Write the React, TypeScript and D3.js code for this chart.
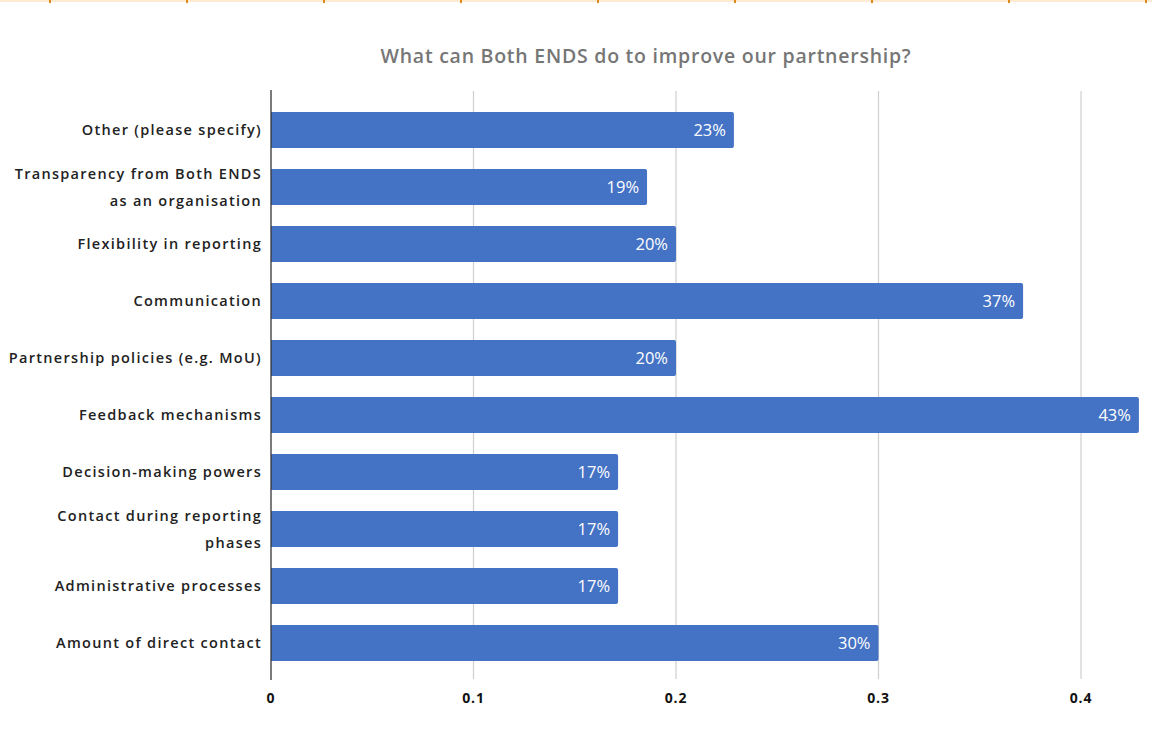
import React from "react";
import * as d3 from "d3";

const categories: string[][] = [
  ["Other (please specify)"],
  ["Transparency from Both ENDS", "as an organisation"],
  ["Flexibility in reporting"],
  ["Communication"],
  ["Partnership policies (e.g. MoU)"],
  ["Feedback mechanisms"],
  ["Decision-making powers"],
  ["Contact during reporting", "phases"],
  ["Administrative processes"],
  ["Amount of direct contact"],
];
const values: number[] = [0.2286, 0.1857, 0.2, 0.3714, 0.2, 0.4286, 0.1714, 0.1714, 0.1714, 0.3];
const valueLabels: string[] = ["23%", "19%", "20%", "37%", "20%", "43%", "17%", "17%", "17%", "30%"];
const xTicks: number[] = [0, 0.1, 0.2, 0.3, 0.4];
const xTickLabels: string[] = ["0", "0.1", "0.2", "0.3", "0.4"];
const topTicks: number[] = [50, 187, 324, 461, 598, 735, 872, 1009, 1146];
const title = "What can Both ENDS do to improve our partnership?";

const W = 1152;
const H = 738;
const x0 = 271;
const font = "'Open Sans', Lato, sans-serif";

export default function App() {
  const x = d3.scaleLinear().domain([0, 0.4]).range([x0, x0 + 810]);
  const y = d3
    .scaleBand<number>()
    .domain(d3.range(categories.length))
    .range([101.5, 671.5])
    .paddingInner(0.37)
    .paddingOuter(0.185);
  return (
    <svg
      width={W}
      height={H}
      style={{ position: "absolute", left: 0, top: 0, background: "#fff" }}
    >
      <rect x={0} y={0} width={W} height={2} fill="#fdebd3" />
      {topTicks.map((t, i) => (
        <rect key={i} x={t - 1} y={0} width={2} height={3} fill="#e08a1e" />
      ))}
      <text
        x={646}
        y={63}
        textAnchor="middle"
        fontFamily={font}
        fontSize={19.5}
        fill="#767676"
        fontWeight={600}
        letterSpacing={0.75}
      >
        {title}
      </text>
      {xTicks.map((t, i) =>
        i === 0 ? null : (
          <line key={i} x1={x(t)} x2={x(t)} y1={91} y2={679} stroke="#cfcfcf" strokeWidth={1.2} />
        )
      )}
      {values.map((v, i) => {
        const by = y(i)!;
        const bh = y.bandwidth();
        const w = x(v) - x0;
        return (
          <g key={i}>
            <path
              d={`M${x0},${by} H${x0 + w - 2} Q${x0 + w},${by} ${x0 + w},${by + 2} V${by + bh - 2} Q${x0 + w},${by + bh} ${x0 + w - 2},${by + bh} H${x0} Z`}
              fill="#4472c4"
            />
            <text
              x={x0 + w - 8}
              y={by + bh / 2 + 6}
              textAnchor="end"
              fontFamily={font}
              fontSize={16.5}
              fill="#fff"
            >
              {valueLabels[i]}
            </text>
          </g>
        );
      })}
      <line x1={x0} x2={x0} y1={90} y2={680} stroke="#333" strokeWidth={1.3} />
      {categories.map((lines, i) => {
        const cy = y(i)! + y.bandwidth() / 2;
        const n = lines.length;
        return (
          <text
            key={i}
            textAnchor="end"
            fontFamily={font}
            fontSize={14.5}
            fontWeight={600}
            fill="#222"
            letterSpacing={1.3}
          >
            {lines.map((l, j) => (
              <tspan key={j} x={262} y={cy + 5 + (j - (n - 1) / 2) * 27}>
                {l}
              </tspan>
            ))}
          </text>
        );
      })}
      {xTicks.map((t, i) => (
        <text
          key={i}
          x={x(t)}
          y={703}
          textAnchor="middle"
          fontFamily={font}
          fontSize={14}
          fontWeight={700}
          fill="#111"
          letterSpacing={0.8}
        >
          {xTickLabels[i]}
        </text>
      ))}
    </svg>
  );
}
